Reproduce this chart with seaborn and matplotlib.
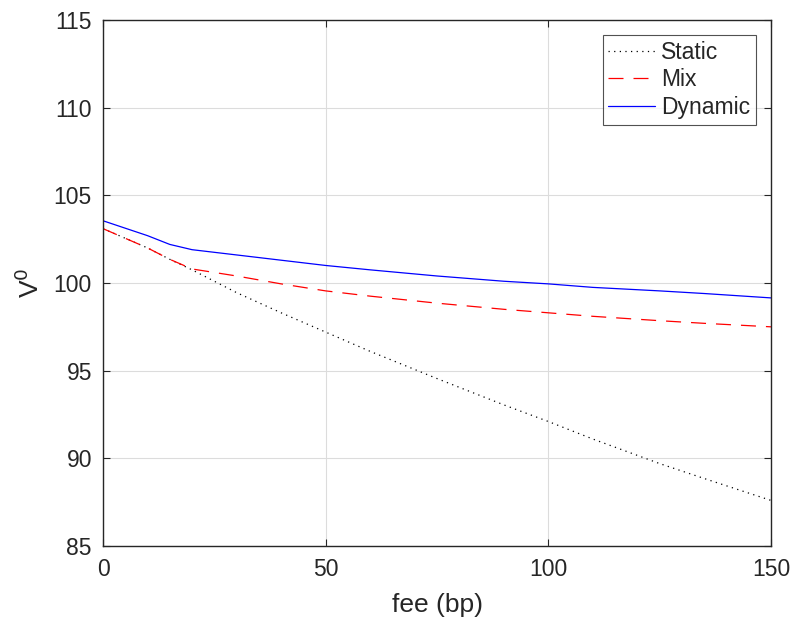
import matplotlib
matplotlib.use("Agg")
import matplotlib.pyplot as plt
import seaborn as sns
import pandas as pd

fee = [0, 10, 15, 20, 30, 40, 50, 60, 75, 90, 100, 110, 125, 135, 150]
static = [103.1, 102.0, 101.35, 100.75, 99.45, 98.3, 97.2, 96.1, 94.55, 93.05, 92.1, 91.1, 89.7, 88.85, 87.6]
mix = [103.1, 102.0, 101.35, 100.8, 100.4, 99.95, 99.55, 99.25, 98.85, 98.5, 98.3, 98.1, 97.85, 97.7, 97.5]
dynamic = [103.55, 102.7, 102.2, 101.9, 101.6, 101.3, 101.0, 100.75, 100.4, 100.1, 99.95, 99.75, 99.55, 99.4, 99.15]

sns.set_theme(style="whitegrid")
plt.rcParams['font.family'] = ['Liberation Sans', 'DejaVu Sans']

fig = plt.figure(figsize=(7.95, 6.23), dpi=100)
ax = fig.add_axes([103/795, 1-546/623, (771-103)/795, (546-20)/623])

series = [("Static", static, "black", (0, (1, 3.5))),
          ("Mix", mix, "red", (0, (12, 8))),
          ("Dynamic", dynamic, "blue", "-")]
for name, vals, col, ls in series:
    df = pd.DataFrame({"fee": fee, "V": vals})
    sns.lineplot(data=df, x="fee", y="V", ax=ax, color=col, linestyle=ls, lw=0.9, label=name)

ax.set_xlim(0, 150)
ax.set_ylim(85, 115)
ax.set_xticks([0, 50, 100, 150])
ax.set_yticks([85, 90, 95, 100, 105, 110, 115])
ax.grid(True, color="#dcdcdc", lw=0.8)
ax.set_facecolor("white")
for s in ax.spines.values():
    s.set_color("#262626")
    s.set_linewidth(1.0)
ax.tick_params(direction="in", length=5, width=0.8, colors="#262626", labelsize=16.5,
               top=True, right=True, bottom=True, left=True)
ax.tick_params(axis="x", pad=9)
ax.tick_params(axis="y", pad=8)
ax.set_xlabel("fee (bp)", fontsize=19, color="#262626", labelpad=8)
ax.set_ylabel("V$^0$", fontsize=19, color="#262626", labelpad=7)

leg = ax.legend(loc="upper right", fontsize=16.5, frameon=True, fancybox=False,
                edgecolor="#262626", handlelength=2.05, handletextpad=0.25,
                borderpad=0.25, labelspacing=0.2, borderaxespad=0,
                bbox_to_anchor=(0.9775, 0.9715))
leg.get_frame().set_linewidth(0.8)

fig.savefig("out.png", dpi=100, facecolor="white")
